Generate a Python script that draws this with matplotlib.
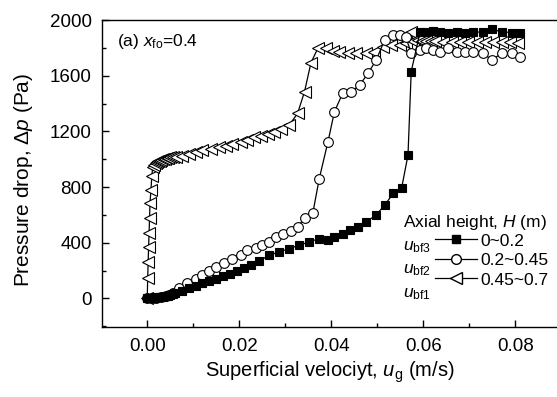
#!/usr/bin/env python
import matplotlib
matplotlib.use('Agg')
import matplotlib.pyplot as plt
from matplotlib.lines import Line2D
from matplotlib.ticker import MultipleLocator

plt.rcParams['font.family'] = ['Liberation Sans', 'DejaVu Sans']
plt.rcParams['mathtext.fontset'] = 'custom'
plt.rcParams['mathtext.rm'] = 'Liberation Sans'
plt.rcParams['mathtext.it'] = 'Liberation Sans:italic'

# u_bf3, H = 0~0.2 (filled squares)
sq_x = [0.0, 0.0005, 0.001, 0.0015, 0.002, 0.0025, 0.003, 0.0035, 0.004, 0.0045,
        0.005, 0.0055, 0.006, 0.0075, 0.009, 0.0105, 0.012, 0.0135, 0.015, 0.0165,
        0.018, 0.0195, 0.021, 0.0225, 0.0244, 0.0265, 0.0287, 0.0309, 0.033, 0.0352,
        0.0374, 0.0393, 0.0407, 0.0425, 0.044, 0.0458, 0.0476, 0.0498, 0.0516, 0.0535,
        0.0553, 0.0567, 0.0574, 0.0593, 0.0607, 0.0622, 0.0636, 0.0654, 0.0673, 0.0691,
        0.0709, 0.0731, 0.0749, 0.0771, 0.0793, 0.0811]
sq_y = [0, 2, 4, 6, 8, 10, 12, 14, 17, 20,
        25, 32, 40, 55, 72, 90, 108, 125, 142, 160,
        178, 198, 218, 238, 270, 310, 335, 358, 382, 406,
        430, 420, 438, 466, 490, 515, 550, 600, 670, 755,
        790, 1030, 1630, 1911, 1916, 1923, 1916, 1904, 1911, 1904,
        1911, 1916, 1933, 1916, 1909, 1909]

# u_bf2, H = 0.2~0.45 (open circles)
ci_x = [0.0, 0.001, 0.002, 0.003, 0.004, 0.0048, 0.0055, 0.0069, 0.0087, 0.0106,
        0.012, 0.0134, 0.0149, 0.0167, 0.0185, 0.0204, 0.0218, 0.0236, 0.025, 0.0265,
        0.028, 0.0296, 0.0313, 0.0327, 0.0342, 0.036, 0.0374, 0.0393, 0.0407, 0.0425,
        0.0444, 0.0462, 0.048, 0.0498, 0.0516, 0.0535, 0.0549, 0.0562, 0.0574, 0.0593,
        0.0607, 0.0622, 0.0636, 0.0654, 0.0673, 0.0691, 0.0709, 0.0731, 0.0749, 0.0771,
        0.0793, 0.0811]
ci_y = [0, 2, 5, 10, 18, 28, 37, 73, 109, 138,
        169, 200, 228, 257, 281, 312, 348, 360, 384, 408,
        444, 463, 487, 516, 576, 612, 860, 1126, 1341, 1474,
        1485, 1533, 1617, 1713, 1856, 1892, 1892, 1880, 1761, 1785,
        1797, 1785, 1772, 1797, 1772, 1772, 1772, 1761, 1713, 1761,
        1761, 1737]

# u_bf1, H = 0.45~0.7 (open left triangles)
tr_x = [0.0, 0.0001, 0.0002, 0.0003, 0.0004, 0.0005, 0.0006, 0.0008, 0.001, 0.0012,
        0.0015, 0.0018, 0.0021, 0.0024, 0.0027, 0.003, 0.0034, 0.0038, 0.0042, 0.0046,
        0.005, 0.0055, 0.0062, 0.0076, 0.0091, 0.0106, 0.012, 0.0138, 0.0156, 0.0171,
        0.0185, 0.0204, 0.0218, 0.0233, 0.0247, 0.0262, 0.0276, 0.0291, 0.0309, 0.0327,
        0.0342, 0.0356, 0.0371, 0.0389, 0.0404, 0.0418, 0.0436, 0.0455, 0.0476, 0.0494,
        0.0513, 0.0531, 0.0549, 0.0562, 0.0574, 0.0578, 0.0588, 0.0598, 0.0606, 0.0616,
        0.0626, 0.0643, 0.0662, 0.068, 0.0697, 0.0716, 0.0734, 0.0751, 0.0771, 0.0789,
        0.0806]
tr_y = [0, 147, 264, 372, 468, 576, 684, 779, 880, 946,
        960, 970, 978, 985, 990, 995, 1000, 1004, 1008, 1010,
        1013, 1016, 1018, 1026, 1038, 1054, 1066, 1074, 1090, 1097,
        1110, 1126, 1138, 1158, 1167, 1179, 1198, 1215, 1246, 1330,
        1485, 1693, 1797, 1800, 1780, 1772, 1761, 1761, 1761, 1772,
        1808, 1820, 1820, 1835, 1916, 1850, 1855, 1852, 1850, 1848,
        1850, 1845, 1845, 1840, 1840, 1840, 1845, 1840, 1845, 1840,
        1835]

labels = ['0~0.2', '0.2~0.45', '0.45~0.7']
prefixes = [r'$u_{\rm bf3}$', r'$u_{\rm bf2}$', r'$u_{\rm bf1}$']


def main():
    fig = plt.figure(figsize=(5.57, 3.97), dpi=100)
    ax = fig.add_axes([0.1826, 0.1763, 0.8174, 0.7733])

    kw = dict(color='black', lw=0.9, mec='black', mew=0.8)
    ax.plot(tr_x, tr_y, marker='<', ms=8, mfc='white', **kw)
    ax.plot(ci_x, ci_y, marker='o', ms=7, mfc='white', **kw)
    ax.plot(sq_x, sq_y, marker='s', ms=6, mfc='black', **kw)

    ax.set_xlim(-0.0099, 0.0891)
    ax.set_ylim(-205, 2000)
    ax.xaxis.set_major_locator(MultipleLocator(0.02))
    ax.xaxis.set_minor_locator(MultipleLocator(0.01))
    ax.yaxis.set_major_locator(MultipleLocator(400))
    ax.yaxis.set_minor_locator(MultipleLocator(200))
    ax.xaxis.set_major_formatter(lambda v, p: f'{v:.2f}')

    ax.spines['right'].set_visible(False)
    for s in ax.spines.values():
        s.set_linewidth(1.0)
    ax.tick_params(which='both', direction='in', labelsize=13.5, width=1.0)
    ax.tick_params(which='major', length=5)
    ax.tick_params(which='minor', length=3)
    ax.tick_params(axis='x', pad=8)
    ax.tick_params(axis='y', pad=7)

    ax.set_xlabel(r'Superficial velociyt, $u_{\rm g}$ (m/s)', fontsize=14.5)
    ax.set_ylabel(r'Pressure drop, $\Delta p$ (Pa)', fontsize=15)
    ax.xaxis.label.set_va('baseline')
    ax.xaxis.set_label_coords(0.5, -0.163)
    ax.yaxis.set_label_coords(-0.147, 0.48)

    ax.text(0.033, 0.915, r'(a) $x_{\rm fo}$=0.4', transform=ax.transAxes,
            fontsize=12.5, va='baseline')

    handles = [
        Line2D([], [], color='black', lw=0.9, marker='s', ms=6, mfc='black', mec='black'),
        Line2D([], [], color='black', lw=0.9, marker='o', ms=7, mfc='white', mec='black'),
        Line2D([], [], color='black', lw=0.9, marker='<', ms=8, mfc='white', mec='black'),
    ]
    ax.legend(handles, labels, loc='upper left', bbox_to_anchor=(0.732, 0.305),
              frameon=False, fontsize=12.5, handlelength=2.4, handletextpad=0.2,
              labelspacing=0.25, borderpad=0, borderaxespad=0)
    ax.text(0.661, 0.339, r'Axial height, $H$ (m)', transform=ax.transAxes,
            fontsize=12.5, va='center')
    for i, p in enumerate(prefixes):
        ax.text(0.661, 0.251 - i * 0.077, p, transform=ax.transAxes,
                fontsize=12.5, va='baseline')

    fig.savefig('out.png', dpi=100)


if __name__ == '__main__':
    main()
